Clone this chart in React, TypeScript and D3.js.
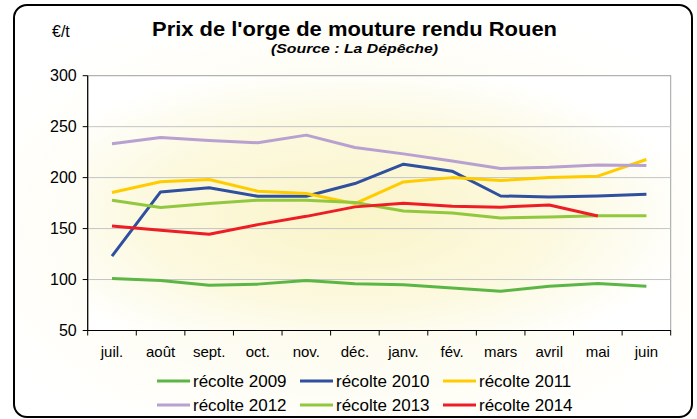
import React from "react";
import * as d3 from "d3";

const months = ["juil.", "août", "sept.", "oct.", "nov.", "déc.", "janv.", "fév.", "mars", "avril", "mai", "juin"];
const r2009 = [101, 99, 94.5, 95.5, 99, 95.8, 95, 91.6, 88.6, 93.5, 96, 93.5];
const r2010 = [123, 186, 190, 181.7, 181.7, 194.2, 213.2, 206.3, 182, 181, 182, 183.7];
const r2011 = [185.4, 196, 198.1, 186.7, 184.4, 174.5, 195.8, 200, 197.2, 200, 201.4, 217.8];
const r2012 = [233.2, 239.4, 236.5, 234.2, 241.7, 229.6, 223.3, 216.4, 209, 210.2, 212.5, 211.9];
const r2013 = [177.8, 170.6, 174.5, 177.8, 177.8, 175.5, 167.3, 165.3, 160.4, 161.4, 162.7, 162.7];
const r2014: (number | null)[] = [152.5, 148.3, 144.4, 153.9, 162, 171.3, 174.9, 171.9, 171, 173.2, 162.4, null];
const yTicks = [50, 100, 150, 200, 250, 300];

const seriesNames = ["récolte 2009", "récolte 2010", "récolte 2011", "récolte 2012", "récolte 2013", "récolte 2014"];
const seriesData = [r2009, r2010, r2011, r2012, r2013, r2014];
const seriesColors = ["#5cb646", "#2f4f9f", "#ffcc00", "#b8a0d0", "#92c83e", "#ee1c25"];

export default function App() {
  const W = 697, H = 419;
  const left = 87.7, right = 670.7, top = 75.7, bottom = 330.5;
  const x = d3.scaleBand<string>().domain(months).range([left, right]);
  const y = d3.scaleLinear().domain([50, 300]).range([bottom, top]);
  const line = d3
    .line<number | null>()
    .defined((d) => d != null)
    .x((_, i) => (x(months[i]) as number) + x.bandwidth() / 2)
    .y((d) => y(d as number));
  const font = "Arial, 'Liberation Sans', sans-serif";
  const legendCols = [157, 300, 443];
  const legendRows = [381, 405];
  return (
    <svg width={W} height={H} style={{ position: "absolute", left: 0, top: 0 }} fontFamily={font}>
      <defs>
        <radialGradient id="outerBg" cx="0.5" cy="0.55" r="0.6">
          <stop offset="0" stopColor="#fcf9e2" />
          <stop offset="1" stopColor="#ffffff" />
        </radialGradient>
        <radialGradient id="plotBg" cx="0.45" cy="0.55" r="0.6">
          <stop offset="0" stopColor="#faf4c8" />
          <stop offset="0.6" stopColor="#fcf9e0" />
          <stop offset="1" stopColor="#ffffff" />
        </radialGradient>
      </defs>
      <rect x={14} y={5} width={678} height={412} rx={13} fill="url(#outerBg)" stroke="#000" strokeWidth={2} />
      <rect x={left} y={top} width={right - left} height={bottom - top} fill="url(#plotBg)" stroke="#a0a0a0" strokeWidth={1} />
      {yTicks.slice(1, -1).map((t) => (
        <line key={t} x1={left} x2={right} y1={y(t)} y2={y(t)} stroke="#c4c4c4" strokeWidth={1} />
      ))}
      {seriesData.map((s, i) => (
        <path key={i} d={line(s) || ""} fill="none" stroke={seriesColors[i]} strokeWidth={3} strokeLinejoin="round" />
      ))}
      <line x1={left} x2={left} y1={top} y2={bottom} stroke="#000" strokeWidth={1.2} />
      <line x1={left} x2={right} y1={bottom} y2={bottom} stroke="#000" strokeWidth={1.2} />
      {yTicks.map((t) => (
        <g key={t}>
          <line x1={left - 5} x2={left} y1={y(t)} y2={y(t)} stroke="#000" />
          <text x={left - 11} y={y(t)} dy="0.35em" textAnchor="end" fontSize={16} fill="#000">
            {t}
          </text>
        </g>
      ))}
      {months.map((m) => (
        <g key={m}>
          <line x1={x(m) as number} x2={x(m) as number} y1={bottom} y2={bottom + 5} stroke="#000" />
          <text x={(x(m) as number) + x.bandwidth() / 2} y={357} textAnchor="middle" fontSize={15} fill="#000">
            {m}
          </text>
        </g>
      ))}
      <line x1={right} x2={right} y1={bottom} y2={bottom + 5} stroke="#000" />
      <text x={152} y={36} fontSize={20} fontWeight="bold" fill="#000" textLength={405} lengthAdjust="spacingAndGlyphs">
        Prix de l'orge de mouture rendu Rouen
      </text>
      <text x={271} y={53} fontSize={13.5} fontWeight="bold" fontStyle="italic" fill="#000" textLength={167} lengthAdjust="spacingAndGlyphs">
        (Source : La Dépêche)
      </text>
      <text x={52} y={37} fontSize={16} fill="#000">
        €/t
      </text>
      {seriesNames.map((n, i) => {
        const cx = legendCols[i % 3];
        const cy = legendRows[Math.floor(i / 3)];
        return (
          <g key={n}>
            <line x1={cx} x2={cx + 33} y1={cy} y2={cy} stroke={seriesColors[i]} strokeWidth={3} />
            <text x={cx + 36} y={cy} dy="0.35em" fontSize={17} fill="#000">
              {n}
            </text>
          </g>
        );
      })}
    </svg>
  );
}
